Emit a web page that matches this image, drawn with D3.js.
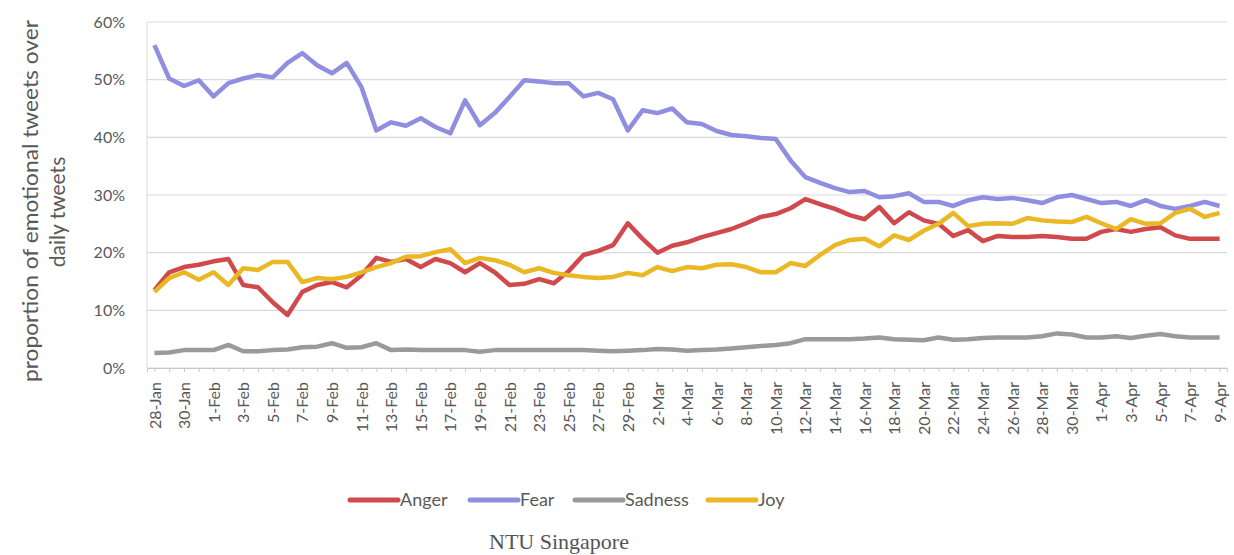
<!DOCTYPE html>
<html>
<head>
<meta charset="utf-8">
<script src="https://cdn.jsdelivr.net/npm/d3@7"></script>
<style>
  body { margin: 0; background: #fff; }
  text { font-family: Lato, "Open Sans", sans-serif; }
</style>
</head>
<body>
<div id="chart"></div>
<script>
// daily dates, 28-Jan to 9-Apr 2020
var dates = ["28-Jan","29-Jan","30-Jan","31-Jan",
  "1-Feb","2-Feb","3-Feb","4-Feb","5-Feb","6-Feb","7-Feb","8-Feb","9-Feb","10-Feb",
  "11-Feb","12-Feb","13-Feb","14-Feb","15-Feb","16-Feb","17-Feb","18-Feb","19-Feb","20-Feb",
  "21-Feb","22-Feb","23-Feb","24-Feb","25-Feb","26-Feb","27-Feb","28-Feb","29-Feb",
  "1-Mar","2-Mar","3-Mar","4-Mar","5-Mar","6-Mar","7-Mar","8-Mar","9-Mar","10-Mar",
  "11-Mar","12-Mar","13-Mar","14-Mar","15-Mar","16-Mar","17-Mar","18-Mar","19-Mar","20-Mar",
  "21-Mar","22-Mar","23-Mar","24-Mar","25-Mar","26-Mar","27-Mar","28-Mar","29-Mar","30-Mar","31-Mar",
  "1-Apr","2-Apr","3-Apr","4-Apr","5-Apr","6-Apr","7-Apr","8-Apr","9-Apr"];

var anger = [13.5,16.6,17.5,17.9,18.5,18.9,14.4,14.0,11.4,9.2,13.2,14.4,14.9,14.0,16.1,19.1,18.4,18.9,17.5,18.9,
  18.2,16.6,18.2,16.6,14.4,14.6,15.4,14.7,16.8,19.6,20.3,21.3,25.1,22.4,20.0,21.2,21.8,22.7,23.4,24.1,
  25.1,26.2,26.7,27.7,29.3,28.4,27.6,26.5,25.8,27.9,25.1,27.0,25.6,25.0,22.9,23.9,22.0,22.9,22.7,22.7,
  22.9,22.7,22.4,22.4,23.6,24.1,23.6,24.1,24.4,23.0,22.4,22.4,22.4];
var fear = [56.0,50.2,48.9,49.9,47.1,49.4,50.2,50.8,50.4,52.9,54.6,52.5,51.1,52.9,48.7,41.2,42.6,42.0,43.3,41.8,
  40.7,46.4,42.1,44.2,47.0,49.9,49.7,49.4,49.4,47.1,47.7,46.6,41.2,44.7,44.2,45.0,42.6,42.3,41.1,40.4,
  40.2,39.9,39.7,36.0,33.1,32.1,31.2,30.5,30.7,29.6,29.8,30.3,28.8,28.8,28.1,29.1,29.6,29.3,29.5,29.1,
  28.6,29.6,30.0,29.3,28.6,28.8,28.1,29.1,28.1,27.6,28.1,28.8,28.1];
var sadness = [2.6,2.7,3.1,3.1,3.1,4.0,2.9,2.9,3.1,3.2,3.6,3.7,4.3,3.5,3.6,4.3,3.1,3.2,3.1,3.1,
  3.1,3.1,2.8,3.1,3.1,3.1,3.1,3.1,3.1,3.1,3.0,2.9,3.0,3.1,3.3,3.2,3.0,3.1,3.2,3.4,
  3.6,3.8,4.0,4.3,5.0,5.0,5.0,5.0,5.1,5.3,5.0,4.9,4.8,5.3,4.9,5.0,5.2,5.3,5.3,5.3,
  5.5,6.0,5.8,5.3,5.3,5.5,5.2,5.6,5.9,5.5,5.3,5.3,5.3];
var joy = [13.2,15.6,16.6,15.3,16.6,14.4,17.3,17.0,18.4,18.4,14.9,15.6,15.4,15.8,16.6,17.5,18.2,19.3,19.4,20.1,
  20.6,18.2,19.1,18.7,17.9,16.6,17.3,16.5,16.1,15.8,15.6,15.8,16.5,16.1,17.5,16.8,17.5,17.3,17.9,18.0,
  17.5,16.6,16.6,18.2,17.7,19.6,21.3,22.2,22.4,21.1,23.0,22.2,23.8,25.0,26.9,24.6,25.0,25.1,25.0,26.0,
  25.6,25.4,25.3,26.2,25.1,24.1,25.8,25.0,25.1,26.9,27.6,26.2,26.9];

var seriesNames = ["Anger", "Fear", "Sadness", "Joy"];
var seriesColors = ["#d04a4d", "#8f8ee0", "#9a9a9a", "#e9b824"];
var yTicks = [0, 10, 20, 30, 40, 50, 60];

var width = 1234, height = 555;
var margin = {top: 22, right: 7, bottom: 187, left: 147};

var svg = d3.select("#chart").append("svg")
    .attr("width", width)
    .attr("height", height);

var x = d3.scalePoint()
    .domain(dates)
    .range([margin.left, width - margin.right])
    .padding(0.5);
var y = d3.scaleLinear()
    .domain([0, 60])
    .range([height - margin.bottom, margin.top]);

// gridlines
svg.append("g")
    .selectAll("line")
    .data(yTicks)
    .join("line")
    .attr("x1", margin.left)
    .attr("x2", width - margin.right)
    .attr("y1", d => y(d))
    .attr("y2", d => y(d))
    .attr("stroke", "#d9d9d9")
    .attr("stroke-width", 1.2);

// left axis line
svg.append("line")
    .attr("x1", margin.left).attr("x2", margin.left)
    .attr("y1", y(60)).attr("y2", y(0))
    .attr("stroke", "#d9d9d9");

// y labels
var yAxis = svg.append("g")
    .attr("transform", "translate(" + (margin.left - 22) + ",0)")
    .call(d3.axisLeft(y).tickValues(yTicks).tickSize(0).tickFormat(d => d + "%"));
yAxis.select(".domain").remove();
yAxis.selectAll("text")
    .attr("fill", "#595959")
    .style("font-size", "16px")
    .attr("x", 0);

// x axis with ticks on each day, label every 2nd
var xAxis = svg.append("g")
    .attr("transform", "translate(0," + y(0) + ")")
    .call(d3.axisBottom(x).tickSize(4).tickFormat((d, i) => i % 2 === 0 ? d : ""));
xAxis.select(".domain").attr("stroke", "#c8c8c8");
xAxis.selectAll(".tick line").attr("stroke", "#c8c8c8");
xAxis.selectAll("text")
    .attr("fill", "#595959")
    .style("font-size", "16px")
    .attr("text-anchor", "end")
    .attr("transform", "rotate(-90)")
    .attr("x", -14)
    .attr("y", 0)
    .attr("dy", "0.35em");

// lines
var allSeries = [anger, fear, sadness, joy];
var line = d3.line()
    .x((d, i) => x(dates[i]))
    .y(d => y(d));

svg.append("g")
    .selectAll("path")
    .data(allSeries)
    .join("path")
    .attr("d", d => line(d))
    .attr("fill", "none")
    .attr("stroke", (d, i) => seriesColors[i])
    .attr("stroke-width", 4.5)
    .attr("stroke-linejoin", "round");

// y axis title, two lines
svg.append("text")
    .attr("transform", "translate(38,201) rotate(-90)")
    .attr("text-anchor", "middle")
    .attr("fill", "#595959")
    .style("font-size", "21px")
    .attr("textLength", 362)
    .attr("lengthAdjust", "spacingAndGlyphs")
    .text("proportion of emotional tweets over");
svg.append("text")
    .attr("transform", "translate(65,212) rotate(-90)")
    .attr("text-anchor", "middle")
    .attr("fill", "#595959")
    .style("font-size", "21px")
    .text("daily tweets");

// legend
var legendX = [350, 470, 575, 708];
var legend = svg.append("g")
    .selectAll("g")
    .data(seriesNames)
    .join("g")
    .attr("transform", (d, i) => "translate(" + legendX[i] + ",500)");
legend.append("line")
    .attr("x1", 0).attr("x2", 48)
    .attr("stroke", (d, i) => seriesColors[i])
    .attr("stroke-width", 5)
    .attr("stroke-linecap", "round");
legend.append("text")
    .attr("x", 50)
    .attr("dy", "0.35em")
    .attr("fill", "#595959")
    .style("font-size", "18px")
    .text(d => d);

// source caption
svg.append("text")
    .attr("x", 559)
    .attr("y", 549)
    .attr("text-anchor", "middle")
    .attr("fill", "#555")
    .style("font-family", "'Liberation Serif', 'DejaVu Serif', serif")
    .style("font-size", "22px")
    .text("NTU Singapore");
</script>
</body>
</html>
